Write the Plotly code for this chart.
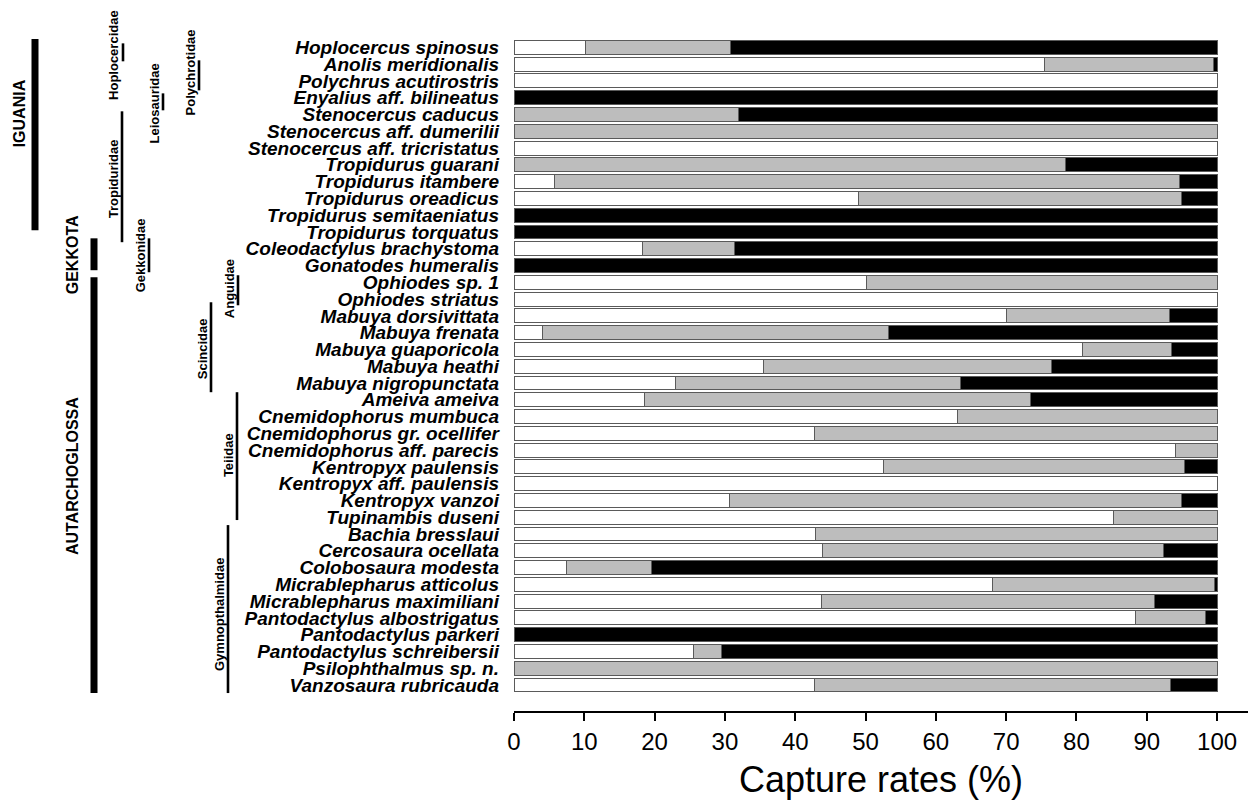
import plotly.graph_objects as go

# ---------------- data ----------------
species = [
    "Hoplocercus spinosus", "Anolis meridionalis", "Polychrus acutirostris",
    "Enyalius aff. bilineatus", "Stenocercus caducus", "Stenocercus aff. dumerilii",
    "Stenocercus aff. tricristatus", "Tropidurus guarani", "Tropidurus itambere",
    "Tropidurus oreadicus", "Tropidurus semitaeniatus", "Tropidurus torquatus",
    "Coleodactylus brachystoma", "Gonatodes humeralis", "Ophiodes sp. 1",
    "Ophiodes striatus", "Mabuya dorsivittata", "Mabuya frenata",
    "Mabuya guaporicola", "Mabuya heathi", "Mabuya nigropunctata",
    "Ameiva ameiva", "Cnemidophorus mumbuca", "Cnemidophorus gr. ocellifer",
    "Cnemidophorus aff. parecis", "Kentropyx paulensis", "Kentropyx aff. paulensis",
    "Kentropyx vanzoi", "Tupinambis duseni", "Bachia bresslaui",
    "Cercosaura ocellata", "Colobosaura modesta", "Micrablepharus atticolus",
    "Micrablepharus maximiliani", "Pantodactylus albostrigatus", "Pantodactylus parkeri",
    "Pantodactylus schreibersii", "Psilophthalmus sp. n.", "Vanzosaura rubricauda",
]

white_pct = [10.2, 75.4, 100, 0, 0, 0, 100, 0, 5.7, 49.0, 0, 0, 18.3, 0, 50.1,
             100, 70.0, 4.1, 80.9, 35.5, 22.9, 18.6, 63.1, 42.7, 94.1, 52.6, 100,
             30.6, 85.3, 42.9, 43.9, 7.5, 68.1, 43.7, 88.4, 0, 25.6, 0, 42.7]
grey_pct = [20.6, 24.1, 0, 0, 31.9, 100, 0, 78.4, 88.9, 46.0, 0, 0, 13.1, 0, 49.9,
            0, 23.3, 49.2, 12.6, 40.9, 40.6, 54.9, 36.9, 57.3, 5.9, 42.8, 0,
            64.4, 14.7, 57.1, 48.5, 12.1, 31.5, 47.4, 9.9, 0, 3.9, 100, 50.7]
black_pct = [69.2, 0.5, 0, 100, 68.1, 0, 0, 21.6, 5.4, 5.0, 100, 100, 68.6, 100, 0,
             0, 6.7, 46.7, 6.5, 23.6, 36.5, 26.5, 0, 0, 0, 4.6, 0,
             5.0, 0, 0, 7.6, 80.4, 0.4, 8.9, 1.7, 100, 70.5, 0, 6.6]

x_ticks = [0, 10, 20, 30, 40, 50, 60, 70, 80, 90, 100]

# higher clades: name, first row, last row (row units), label row
clade_names = ["IGUANIA", "GEKKOTA", "AUTARCHOGLOSSA"]
clade_start = [-1.13, 11.38, 13.70]
clade_end = [10.9, 13.28, 38.48]
clade_label_row = [3.93, 12.39, 25.55]

family_names = ["Hoplocercidae", "Polychrotidae", "Leiosauridae", "Tropiduridae",
                "Gekkonidae", "Anguidae", "Scincidae", "Teiidae", "Gymnopthalmidae"]
family_start = [-0.24, 0.77, 2.74, 3.81, 11.38, 13.58, 15.19, 20.55, 28.47]
family_end = [0.83, 2.56, 3.75, 11.61, 13.4, 15.37, 20.55, 28.17, 38.48]
family_label_row = [0.45, 1.49, 3.34, 7.86, 12.39, 14.41, 17.99, 24.3, 33.83]

# ---------------- layout geometry ----------------
# page body has an 8px margin, so the figure is drawn 8px in from the window edge
PAGE = 8
W, H = 1256 - PAGE, 808 - PAGE
L, R, T, B = 514 - PAGE, 8, 39 - PAGE, 97
plot_w = W - L - R

def px_to_paper(px):
    # px: horizontal position in the window
    return (px - PAGE - L) / plot_w

clade_bar_px = [35, 94, 94]
clade_label_px = [19, 72, 72]
family_bar_px = [123, 199, 163, 122, 149, 238, 211, 237, 228]

rows = list(range(len(species)))
FONT = "Liberation Sans, Arial, sans-serif"
edge = dict(color="#5a5a5a", width=1)

fig = go.Figure()
for name, vals, col in [("White", white_pct, "#ffffff"),
                        ("Grey", grey_pct, "#bdbdbd"),
                        ("Black", black_pct, "#000000")]:
    fig.add_trace(go.Bar(
        x=vals, y=rows, orientation="h", name=name,
        marker=dict(color=col, line=edge),
        hovertemplate="%{text}: %{x}%<extra></extra>", text=species,
        textposition="none",
    ))

shapes = []
annotations = []
for nm, y0, y1, ly, bx, lx in zip(clade_names, clade_start, clade_end,
                                  clade_label_row, clade_bar_px, clade_label_px):
    shapes.append(dict(type="line", xref="paper", yref="y",
                       x0=px_to_paper(bx), x1=px_to_paper(bx), y0=y0, y1=y1,
                       line=dict(color="black", width=7)))
    annotations.append(dict(text="<b>%s</b>" % nm, xref="paper", yref="y",
                            x=px_to_paper(lx), y=ly, textangle=-90,
                            showarrow=False, xanchor="center", yanchor="middle",
                            font=dict(family=FONT, size=16, color="black")))

for nm, y0, y1, ly, bx in zip(family_names, family_start, family_end,
                              family_label_row, family_bar_px):
    shapes.append(dict(type="line", xref="paper", yref="y",
                       x0=px_to_paper(bx), x1=px_to_paper(bx), y0=y0, y1=y1,
                       line=dict(color="black", width=2.6)))
    annotations.append(dict(text="<b>%s</b>" % nm, xref="paper", yref="y",
                            x=px_to_paper(bx), xshift=-9, y=ly, textangle=-90,
                            showarrow=False, xanchor="center", yanchor="middle",
                            font=dict(family=FONT, size=13, color="black")))

fig.update_layout(
    width=W, height=H,
    margin=dict(l=L, r=R, t=T, b=B),
    paper_bgcolor="white", plot_bgcolor="white",
    barmode="stack", bargap=0.17, showlegend=False,
    shapes=shapes, annotations=annotations,
    xaxis=dict(
        range=[0, 104.4], tickvals=x_ticks, ticktext=[str(v) for v in x_ticks],
        showgrid=False, zeroline=False, showline=True, linecolor="black",
        linewidth=1.5, ticks="outside", ticklen=8, tickwidth=1.5, tickcolor="black",
        tickfont=dict(family=FONT, size=24, color="black"),
        title=dict(text="Capture rates (%)", standoff=13,
                   font=dict(family=FONT, size=36, color="black")),
    ),
    yaxis=dict(
        range=[39.55, -0.5], tickvals=rows, ticktext=species,
        showgrid=False, zeroline=False, showline=False, ticks="",
        ticklabelstandoff=14,
        tickfont=dict(family=FONT, size=19, color="black",
                      weight="bold", style="italic"),
    ),
)

fig.write_html("out.html")
